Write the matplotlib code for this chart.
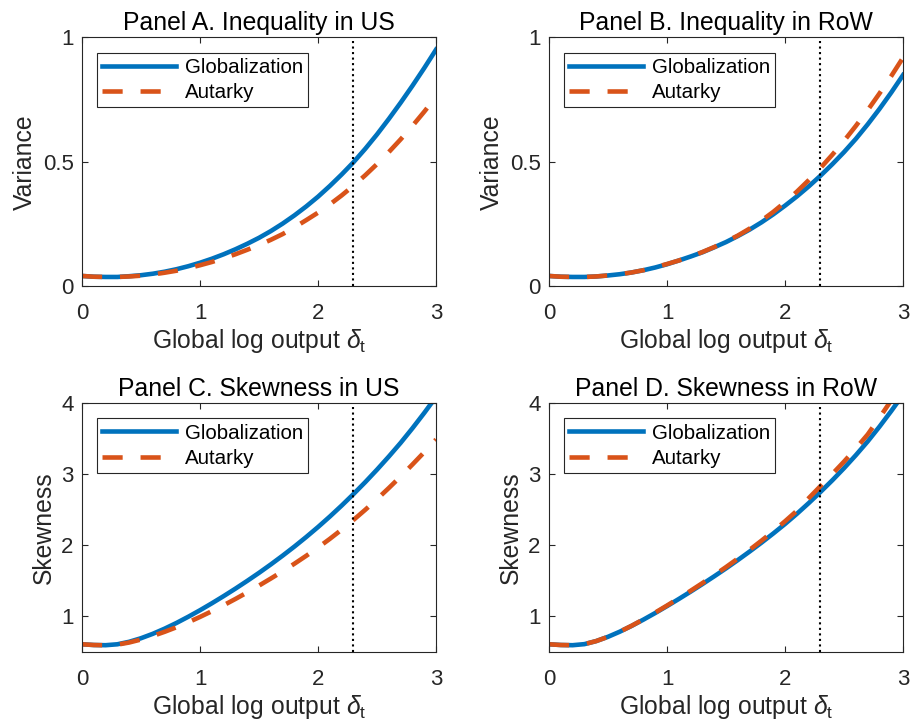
import numpy as np
import matplotlib
matplotlib.use("Agg")
import matplotlib.pyplot as plt

plt.rcParams['font.family'] = ['Liberation Sans', 'DejaVu Sans']
plt.rcParams['mathtext.fontset'] = 'custom'
plt.rcParams['mathtext.rm'] = 'Liberation Sans'
plt.rcParams['mathtext.it'] = 'Liberation Sans:italic'

# global log output grid (step 0.1)
delta = [0.0, 0.1, 0.2, 0.3, 0.4, 0.5, 0.6, 0.7, 0.8, 0.9, 1.0,
         1.1, 1.2, 1.3, 1.4, 1.5, 1.6, 1.7, 1.8, 1.9, 2.0,
         2.1, 2.2, 2.3, 2.4, 2.5, 2.6, 2.7, 2.8, 2.9, 3.0]
delta_now = 2.3

# Panel A: variance, US
var_us_glob = [0.042, 0.039, 0.038, 0.038, 0.041, 0.045, 0.051, 0.059, 0.069, 0.081, 0.095,
               0.111, 0.129, 0.149, 0.171, 0.195, 0.222, 0.252, 0.285, 0.321, 0.360,
               0.403, 0.449, 0.498, 0.552, 0.610, 0.672, 0.737, 0.805, 0.876, 0.950]
var_us_aut = [0.042, 0.039, 0.038, 0.038, 0.040, 0.043, 0.048, 0.055, 0.063, 0.073, 0.085,
              0.098, 0.113, 0.129, 0.147, 0.166, 0.187, 0.210, 0.237, 0.266, 0.296,
              0.329, 0.365, 0.404, 0.446, 0.491, 0.539, 0.590, 0.644, 0.701, 0.761]
# Panel B: variance, RoW
var_row_glob = [0.042, 0.039, 0.038, 0.038, 0.040, 0.044, 0.049, 0.056, 0.065, 0.076, 0.089,
                0.104, 0.120, 0.137, 0.157, 0.178, 0.202, 0.228, 0.257, 0.289, 0.324,
                0.361, 0.401, 0.444, 0.490, 0.539, 0.592, 0.650, 0.712, 0.778, 0.848]
var_row_aut = [0.042, 0.039, 0.038, 0.038, 0.040, 0.044, 0.049, 0.056, 0.065, 0.077, 0.090,
               0.104, 0.120, 0.138, 0.158, 0.180, 0.204, 0.232, 0.264, 0.299, 0.338,
               0.380, 0.426, 0.475, 0.528, 0.584, 0.644, 0.707, 0.774, 0.844, 0.918]
# Panel C: skewness, US
skew_us_glob = [0.610, 0.600, 0.597, 0.610, 0.645, 0.695, 0.757, 0.829, 0.909, 0.996, 1.088,
                1.185, 1.286, 1.391, 1.500, 1.613, 1.731, 1.854, 1.982, 2.116, 2.256,
                2.403, 2.557, 2.718, 2.886, 3.062, 3.246, 3.438, 3.643, 3.858, 4.083]
skew_us_aut = [0.610, 0.600, 0.596, 0.605, 0.635, 0.677, 0.727, 0.785, 0.849, 0.919, 0.994,
               1.074, 1.158, 1.246, 1.338, 1.434, 1.533, 1.635, 1.741, 1.852, 1.968,
               2.090, 2.219, 2.355, 2.498, 2.648, 2.804, 2.966, 3.134, 3.307, 3.485]
# Panel D: skewness, RoW
skew_row_glob = [0.610, 0.600, 0.597, 0.612, 0.655, 0.715, 0.787, 0.868, 0.956, 1.049, 1.146,
                 1.246, 1.349, 1.455, 1.564, 1.676, 1.792, 1.912, 2.036, 2.165, 2.299,
                 2.441, 2.591, 2.748, 2.911, 3.083, 3.265, 3.457, 3.665, 3.885, 4.115]
skew_row_aut = [0.610, 0.600, 0.597, 0.612, 0.655, 0.715, 0.787, 0.870, 0.960, 1.055, 1.154,
                1.256, 1.361, 1.469, 1.580, 1.694, 1.813, 1.936, 2.064, 2.197, 2.337,
                2.484, 2.660, 2.830, 3.000, 3.175, 3.360, 3.555, 3.790, 4.035, 4.290]

titles = ['Panel A. Inequality in US', 'Panel B. Inequality in RoW',
          'Panel C. Skewness in US', 'Panel D. Skewness in RoW']
ylabels = ['Variance', 'Variance', 'Skewness', 'Skewness']
series = [(var_us_glob, var_us_aut), (var_row_glob, var_row_aut),
          (skew_us_glob, skew_us_aut), (skew_row_glob, skew_row_aut)]

blue = '#0072BD'
orange = '#D95319'
dark = '#262626'

fig = plt.figure(figsize=(9.15, 7.27), dpi=100)
w, h = 0.387, 0.343
positions = [[0.0896, 0.606, w, h], [0.600, 0.606, w, h],
             [0.0896, 0.103, w, h], [0.600, 0.103, w, h]]

for i in range(4):
    ax = fig.add_axes(positions[i])
    glob, aut = series[i]
    ax.plot(delta, glob, color=blue, lw=3.3, label='Globalization')
    ax.plot(delta, aut, color=orange, lw=3.3, dashes=(4.4, 3.9), label='Autarky')
    ax.axvline(delta_now, color='k', lw=1.5, ls=':')

    ax.set_xlim(0, 3)
    ax.set_xticks([0, 1, 2, 3])
    if i < 2:
        ax.set_ylim(0, 1)
        ax.set_yticks([0, 0.5, 1])
        ax.set_yticklabels(['0', '0.5', '1'])
    else:
        ax.set_ylim(0.5, 4)
        ax.set_yticks([1, 2, 3, 4])

    ax.tick_params(direction='in', top=True, right=True, length=4, width=0.8,
                   labelsize=16, colors=dark)
    ax.tick_params(axis='x', pad=12)
    ax.tick_params(axis='y', pad=6)
    for s in ax.spines.values():
        s.set_color(dark)
        s.set_linewidth(0.8)

    ax.set_title(titles[i], fontsize=17.8, color='k', pad=5)
    ax.set_ylabel(ylabels[i], fontsize=17.8, color=dark)
    ax.set_xlabel(r'Global log output $\delta_{\mathrm{t}}$', fontsize=17.8, color=dark,
                  labelpad=2)

    leg = ax.legend(loc='upper left', bbox_to_anchor=(0.043, 0.937), fontsize=14.8,
                    handlelength=3.6, fancybox=False, framealpha=1,
                    borderpad=0.25, labelspacing=0.3, handletextpad=0.4,
                    borderaxespad=0)
    leg.get_frame().set_edgecolor(dark)
    leg.get_frame().set_linewidth(0.8)

fig.savefig('out.png', dpi=100)
